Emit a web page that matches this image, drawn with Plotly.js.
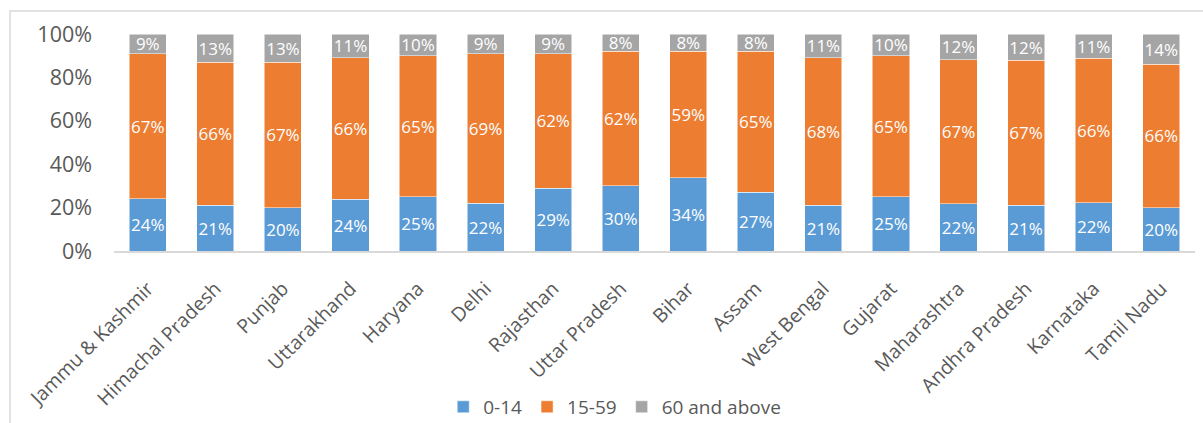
<!DOCTYPE html>
<html>
<head>
<meta charset="utf-8">
<script src="https://cdn.plot.ly/plotly-3.0.1.min.js"></script>
<style>
  html, body { margin: 0; padding: 0; background: #ffffff; }
  #chart { width: 1203px; height: 423px; }
</style>
</head>
<body>
<div id="chart"></div>
<script>
// Population share by age group for Indian states
const states = [
  'Jammu & Kashmir', 'Himachal Pradesh', 'Punjab', 'Uttarakhand', 'Haryana',
  'Delhi', 'Rajasthan', 'Uttar Pradesh', 'Bihar', 'Assam', 'West Bengal',
  'Gujarat', 'Maharashtra', 'Andhra Pradesh', 'Karnataka', 'Tamil Nadu'
];
const age0to14 = [24, 21, 20, 24, 25, 22, 29, 30, 34, 27, 21, 25, 22, 21, 22, 20];
const age15to59 = [67, 66, 67, 66, 65, 69, 62, 62, 59, 65, 68, 65, 67, 67, 66, 66];
const age60plus = [9, 13, 13, 11, 10, 9, 9, 8, 8, 8, 11, 10, 12, 12, 11, 14];
const seriesNames = ['0-14', '15-59', '60 and above'];
const seriesColors = ['#5B9BD5', '#ED7D31', '#A5A5A5'];
const yTickVals = [0, 0.2, 0.4, 0.6, 0.8, 1];

const FONT = 'Open Sans, Lato, sans-serif';

function barTrace(values, idx) {
  return {
    type: 'bar',
    name: seriesNames[idx],
    x: states,
    y: values,
    text: values.map(v => v + '%'),
    textposition: 'inside',
    insidetextanchor: 'middle',
    textangle: 0,
    constraintext: 'none',
    textfont: { family: FONT, size: 17, color: '#ffffff' },
    marker: { color: seriesColors[idx], line: { color: '#ffffff', width: 0.5 } },
    hoverinfo: 'x+name+text'
  };
}

const data = [
  barTrace(age0to14, 0),
  barTrace(age15to59, 1),
  barTrace(age60plus, 2)
];

const layout = {
  width: 1203,
  height: 423,
  margin: { l: 114, r: 8, t: 34, b: 172, autoexpand: false },
  paper_bgcolor: '#ffffff',
  plot_bgcolor: '#ffffff',
  barmode: 'stack',
  barnorm: 'fraction',
  bargap: 0.45,
  font: { family: FONT, color: '#595959', size: 18 },
  showlegend: true,
  legend: {
    orientation: 'h',
    xref: 'container',
    yref: 'container',
    x: 0.511,
    xanchor: 'center',
    y: 0.038,
    yanchor: 'middle',
    font: { family: FONT, size: 19, color: '#595959' },
    traceorder: 'normal',
    itemwidth: 30
  },
  xaxis: {
    type: 'category',
    automargin: false,
    tickangle: -45,
    showline: true,
    linecolor: '#d9d9d9',
    linewidth: 1.5,
    ticks: '',
    showgrid: false,
    ticklabelstandoff: 17,
    tickfont: { family: FONT, size: 19.5, color: '#595959' }
  },
  yaxis: {
    automargin: false,
    range: [0, 1],
    tickvals: yTickVals,
    tickformat: '.0%',
    showgrid: false,
    zeroline: false,
    showline: false,
    ticks: '',
    ticklabelstandoff: 21,
    tickfont: { family: FONT, size: 21.5, color: '#595959' }
  },
  shapes: [{
    type: 'rect',
    xref: 'paper', yref: 'paper',
    x0: -0.0962, x1: 1.2,
    y0: -1.2, y1: 1.106,
    line: { color: '#d9d9d9', width: 1.5 },
    fillcolor: 'rgba(0,0,0,0)',
    layer: 'below'
  }]
};

Plotly.newPlot('chart', data, layout, { displayModeBar: false, staticPlot: true });
</script>
</body>
</html>
